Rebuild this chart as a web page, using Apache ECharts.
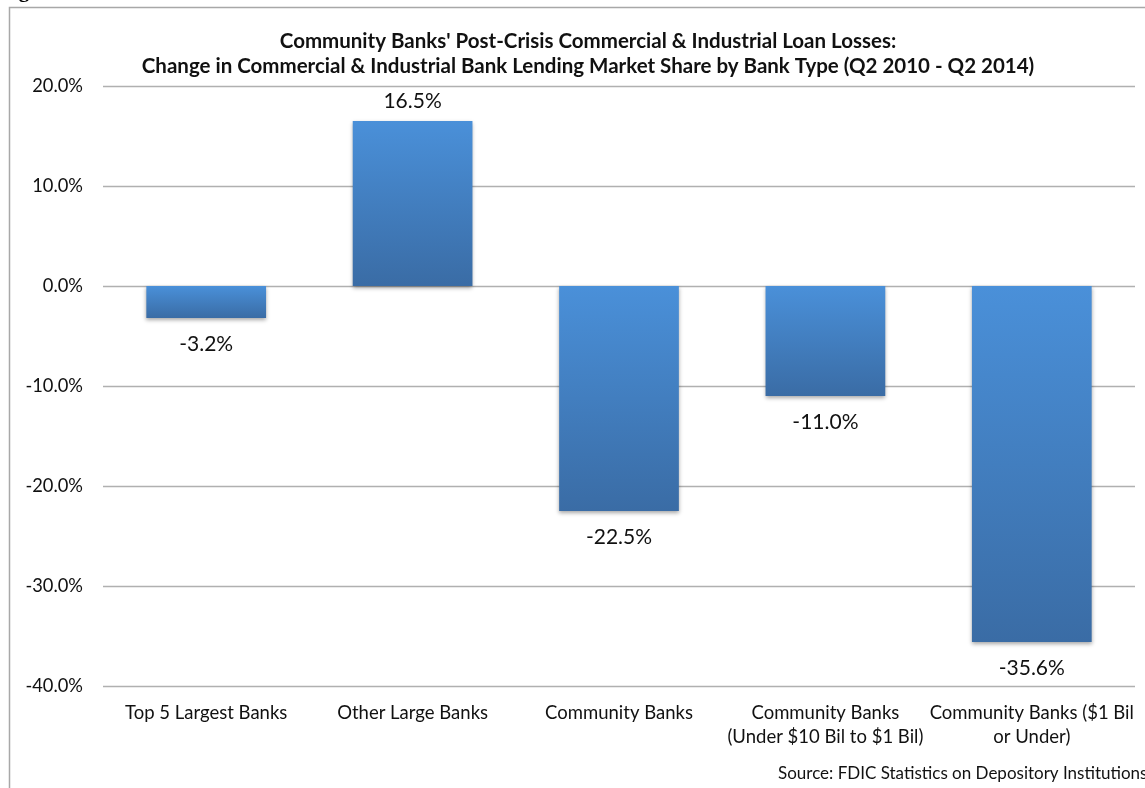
<!DOCTYPE html>
<html>
<head>
<meta charset="utf-8">
<script src="https://cdn.jsdelivr.net/npm/echarts@6/dist/echarts.min.js"></script>
<style>html,body{margin:0;padding:0;background:#fff;}#c{width:1145px;height:788px;}</style>
</head>
<body>
<div id="c"></div>
<script>
const categories = ['Top 5 Largest Banks', 'Other Large Banks', 'Community Banks', 'Community Banks\n(Under $10 Bil to $1 Bil)', 'Community Banks ($1 Bil\nor Under)'];
const values = [-3.2, 16.5, -22.5, -11.0, -35.6];
const yTicks = { min: -40, max: 20, interval: 10 };
const titleLines = ["Community Banks' Post-Crisis Commercial & Industrial Loan Losses:", "Change in Commercial & Industrial Bank Lending Market Share by Bank Type (Q2 2010 - Q2 2014)"];
const sourceText = 'Source: FDIC Statistics on Depository Institutions';

const font = 'Lato, "Open Sans", sans-serif';
const chart = echarts.init(document.getElementById('c'));
const barColor = new echarts.graphic.LinearGradient(0, 0, 0, 1, [
  { offset: 0, color: '#4a90d9' },
  { offset: 1, color: '#3a6ca5' }
]);
chart.setOption({
  backgroundColor: '#fff',
  animation: false,
  title: {
    text: titleLines.join('\n'),
    left: 583, textAlign: 'center', top: 24,
    textStyle: { fontFamily: font, fontWeight: 'bold', fontSize: 20.5, color: '#111', lineHeight: 25 }
  },
  grid: { left: 103, right: 10, top: 86, bottom: 102 },
  xAxis: {
    type: 'category', data: categories,
    axisLine: { show: false }, axisTick: { show: false },
    axisLabel: { interval: 0, fontFamily: font, fontSize: 18.5, color: '#111', margin: 15, lineHeight: 24 }
  },
  yAxis: {
    type: 'value', min: yTicks.min, max: yTicks.max, interval: yTicks.interval,
    axisLine: { show: false }, axisTick: { show: false },
    axisLabel: { fontFamily: font, fontSize: 18.3, color: '#111', margin: 20, formatter: v => v.toFixed(1) + '%' },
    splitLine: { lineStyle: { color: '#b0b0b0', width: 1.3 } }
  },
  series: [{
    type: 'bar', barWidth: '58%',
    data: values.map(v => ({
      value: v,
      label: { position: v >= 0 ? 'top' : 'bottom', distance: v >= 0 ? 9 : 16 }
    })),
    itemStyle: { color: barColor, shadowColor: 'rgba(0,0,0,0.35)', shadowBlur: 4, shadowOffsetY: 2 },
    label: { show: true, fontFamily: font, fontSize: 21, color: '#111', formatter: p => p.value.toFixed(1) + '%' }
  }],
  graphic: [
    { type: 'rect', shape: { x: 9.5, y: 7.5, width: 1200, height: 900 }, style: { fill: 'none', stroke: '#a8a8a8', lineWidth: 1.5 }, z: -1 },
    { type: 'text', left: 0, top: -19, style: { text: 'Figure', font: 'bold 21px "Liberation Serif", serif', fill: '#000' } },
    { type: 'text', left: 778, top: 765, style: { text: sourceText, font: '17px ' + font, fill: '#111' } }
  ]
});
</script>
</body>
</html>
